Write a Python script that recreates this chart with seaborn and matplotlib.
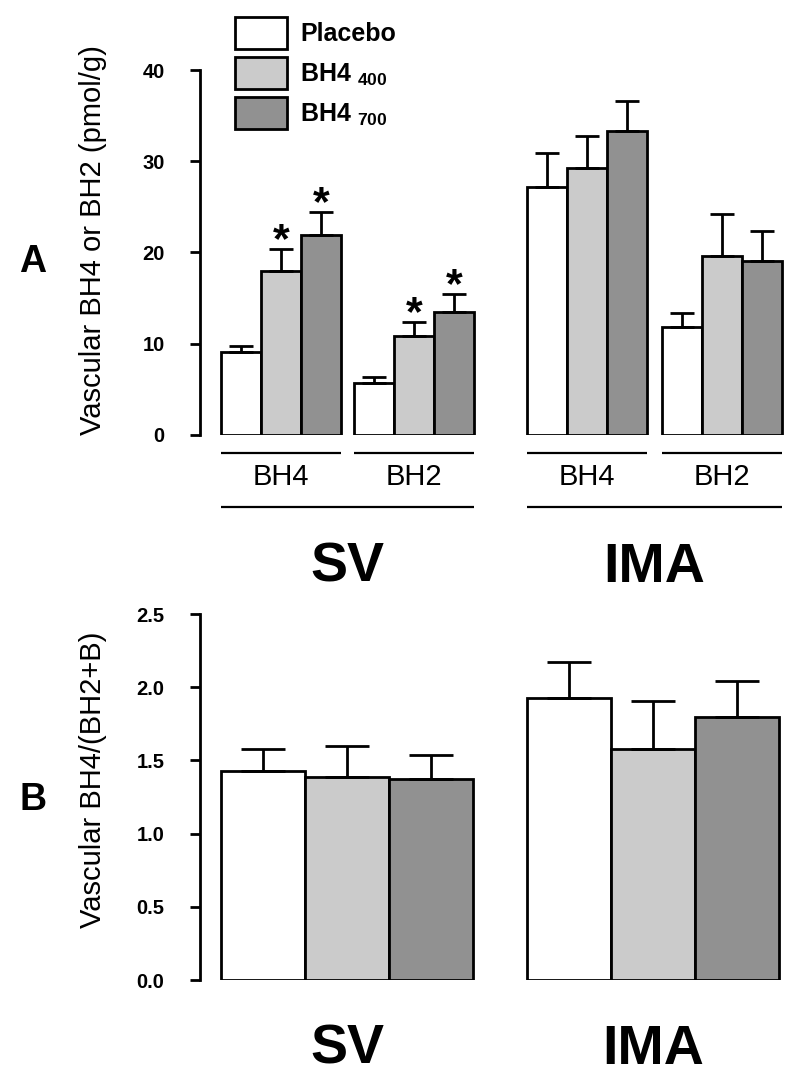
import numpy as np
import pandas as pd
import matplotlib
matplotlib.use("Agg")
import matplotlib.pyplot as plt
import seaborn as sns
from matplotlib.patches import Patch

# ---------------- data ----------------
treatments = ["Placebo", "BH4 400", "BH4 700"]
legend_labels = ["Placebo", r"BH4 $_{400}$", r"BH4 $_{700}$"]
tissues = ["SV", "IMA"]
analytes = ["BH4", "BH2"]

# Panel A: vascular BH4 / BH2 (pmol/g), mean and SEM
sv_bh4_mean = [9.1, 18.0, 21.9]
sv_bh4_sem = [0.7, 2.4, 2.5]
sv_bh4_sig = [False, True, True]
sv_bh2_mean = [5.7, 10.9, 13.5]
sv_bh2_sem = [0.65, 1.45, 1.95]
sv_bh2_sig = [False, True, True]
ima_bh4_mean = [27.2, 29.3, 33.3]
ima_bh4_sem = [3.7, 3.5, 3.3]
ima_bh4_sig = [False, False, False]
ima_bh2_mean = [11.8, 19.6, 19.1]
ima_bh2_sem = [1.6, 4.6, 3.3]
ima_bh2_sig = [False, False, False]

# Panel B: BH4/(BH2+B) ratio
ratio_sv_mean = [1.43, 1.39, 1.37]
ratio_sv_sem = [0.145, 0.21, 0.17]
ratio_ima_mean = [1.925, 1.575, 1.795]
ratio_ima_sem = [0.245, 0.33, 0.25]

a_yticks = [0, 10, 20, 30, 40]
b_yticks = [0.0, 0.5, 1.0, 1.5, 2.0, 2.5]
b_yticklabels = ["0.0", "0.5", "1.0", "1.5", "2.0", "2.5"]
a_ylabel = "Vascular BH4 or BH2 (pmol/g)"
b_ylabel = "Vascular BH4/(BH2+B)"

# ---------------- style / layout ----------------
colors = ["#FFFFFF", "#CBCBCB", "#919191"]
W, H, DPI = 800, 1079, 100
FONT = "Liberation Sans"

sns.set_theme(style="ticks")
plt.rcParams["font.family"] = [FONT, "DejaVu Sans"]
plt.rcParams["text.color"] = "black"
plt.rcParams["axes.labelcolor"] = "black"
plt.rcParams["xtick.color"] = "black"
plt.rcParams["ytick.color"] = "black"
plt.rcParams["mathtext.fontset"] = "custom"
plt.rcParams["mathtext.rm"] = FONT + ":bold"
plt.rcParams["mathtext.it"] = FONT + ":bold"
plt.rcParams["mathtext.bf"] = FONT + ":bold"
plt.rcParams["mathtext.default"] = "rm"

A_GROUP_LEFT = {("SV", "BH4"): 221, ("SV", "BH2"): 354,
                ("IMA", "BH4"): 527, ("IMA", "BH2"): 662}
A_GROUP_W = 120
B_GROUP_LEFT = {"SV": 221, "IMA": 527}
B_GROUP_W = 252
LW = 2.0


def fy(px):
    return 1 - px / H


fig = plt.figure(figsize=(W / DPI, H / DPI), dpi=DPI)
fig.patch.set_facecolor("white")


def style_axis(ax, ticks, labels):
    sns.despine(ax=ax, bottom=True)
    ax.spines["left"].set_linewidth(LW)
    ax.spines["left"].set_color("black")
    ax.set_yticks(ticks, labels, fontweight="bold", fontsize=14.5)
    ax.tick_params(axis="y", direction="out", length=7.5, width=LW, pad=18,
                   color="black", labelcolor="black")
    ax.set_facecolor("white")


def add_errorbars(ax, df, capsize):
    bars = sorted([p for p in ax.patches if p.get_height() > 0],
                  key=lambda p: p.get_x())
    out = []
    for p, (_, row) in zip(bars, df.iterrows()):
        cx = p.get_x() + p.get_width() / 2
        top = p.get_height()
        ax.errorbar([cx], [top], yerr=[[0], [row["sem"]]], fmt="none",
                    ecolor="black", elinewidth=LW, capsize=capsize,
                    capthick=LW, zorder=4)
        out.append((cx, top + row["sem"], row))
    return out


# ---------------- Panel A ----------------
rows = []
for tissue, analyte, means, sems, sigs in [
        ("SV", "BH4", sv_bh4_mean, sv_bh4_sem, sv_bh4_sig),
        ("SV", "BH2", sv_bh2_mean, sv_bh2_sem, sv_bh2_sig),
        ("IMA", "BH4", ima_bh4_mean, ima_bh4_sem, ima_bh4_sig),
        ("IMA", "BH2", ima_bh2_mean, ima_bh2_sem, ima_bh2_sig)]:
    for t, m, s, sg in zip(treatments, means, sems, sigs):
        rows.append(dict(tissue=tissue, analyte=analyte, treatment=t,
                         mean=m, sem=s, sig=sg,
                         xpos=A_GROUP_LEFT[(tissue, analyte)] + A_GROUP_W / 2))
dfA = pd.DataFrame(rows)

axA = fig.add_axes([200 / W, fy(435), 600 / W, (435 - 70) / H])
spA = np.min(np.diff(np.sort(dfA["xpos"].unique())))
sns.barplot(data=dfA, x="xpos", y="mean", hue="treatment", hue_order=treatments,
            palette=colors, native_scale=True, width=A_GROUP_W / spA,
            errorbar=None, edgecolor="black", linewidth=LW, saturation=1,
            legend=False, ax=axA)
axA.set_xlim(200, 800)
axA.set_ylim(0, 40)
style_axis(axA, a_yticks, [str(t) for t in a_yticks])
axA.set_xlabel("")
axA.set_ylabel(a_ylabel, fontsize=21, color="black")
axA.yaxis.set_label_coords((107 - 200) / 600, 0.535)

for cx, top, row in add_errorbars(axA, dfA, capsize=8.3):
    if row["sig"]:
        axA.annotate("*", xy=(cx, top), xytext=(0, -2.0), textcoords="offset points",
                     ha="center", va="baseline", fontsize=31, fontweight="bold",
                     color="black")

# sub-group tick labels and bracket lines
sub_centers = [A_GROUP_LEFT[(t, a)] + A_GROUP_W / 2 for t in tissues for a in analytes]
sub_labels = [a for t in tissues for a in analytes]
axA.set_xticks(sub_centers, sub_labels, fontsize=21)
axA.tick_params(axis="x", length=0, pad=20, labelcolor="black")
tr = axA.get_xaxis_transform()
y_sub = (435 - 452.7) / 365
y_long = (435 - 506.7) / 365
for t in tissues:
    for a in analytes:
        x0 = A_GROUP_LEFT[(t, a)]
        axA.plot([x0, x0 + A_GROUP_W], [y_sub, y_sub], transform=tr,
                 clip_on=False, color="black", lw=1.6, solid_capstyle="butt")
    x0 = A_GROUP_LEFT[(t, "BH4")]
    x1 = A_GROUP_LEFT[(t, "BH2")] + A_GROUP_W
    axA.plot([x0, x1], [y_long, y_long], transform=tr, clip_on=False,
             color="black", lw=1.6, solid_capstyle="butt")
    axA.text((x0 + x1) / 2, (435 - 582) / 365, t, transform=tr, ha="center",
             va="baseline", fontsize=40, fontweight="bold", color="black")

# ---------------- Panel B ----------------
rowsB = []
for tissue, means, sems in [("SV", ratio_sv_mean, ratio_sv_sem),
                            ("IMA", ratio_ima_mean, ratio_ima_sem)]:
    for t, m, s in zip(treatments, means, sems):
        rowsB.append(dict(tissue=tissue, treatment=t, mean=m, sem=s,
                          xpos=B_GROUP_LEFT[tissue] + B_GROUP_W / 2))
dfB = pd.DataFrame(rowsB)

axB = fig.add_axes([200 / W, fy(980), 600 / W, (980 - 614) / H])
spB = np.min(np.diff(np.sort(dfB["xpos"].unique())))
sns.barplot(data=dfB, x="xpos", y="mean", hue="treatment", hue_order=treatments,
            palette=colors, native_scale=True, width=B_GROUP_W / spB,
            errorbar=None, edgecolor="black", linewidth=LW, saturation=1,
            legend=False, ax=axB)
axB.set_xlim(200, 800)
axB.set_ylim(0, 2.5)
style_axis(axB, b_yticks, b_yticklabels)
axB.set_xticks([])
axB.set_xlabel("")
axB.set_ylabel(b_ylabel, fontsize=21, color="black")
axB.yaxis.set_label_coords((107 - 200) / 600, 0.546)
add_errorbars(axB, dfB, capsize=15.5)
trB = axB.get_xaxis_transform()
for t in tissues:
    cx = B_GROUP_LEFT[t] + B_GROUP_W / 2
    axB.text(cx, (980 - 1064) / 366, t, transform=trB, ha="center",
             va="baseline", fontsize=40, fontweight="bold", color="black")

# ---------------- panel letters ----------------
fig.text(33 / W, fy(272), "A", ha="center", va="baseline", fontsize=27,
         fontweight="bold", color="black")
fig.text(33 / W, fy(810), "B", ha="center", va="baseline", fontsize=27,
         fontweight="bold", color="black")

# ---------------- legend ----------------
handles = [Patch(facecolor=c, edgecolor="black", linewidth=LW, label=l)
           for c, l in zip(colors, legend_labels)]
leg = fig.legend(handles=handles, loc="upper left", bbox_to_anchor=(235 / W, fy(17)),
                 frameon=False, borderpad=0, borderaxespad=0, handlelength=2.08,
                 handleheight=1.62, handletextpad=0.52, labelspacing=0.3,
                 prop=dict(family=FONT, weight="bold", size=18))
for txt in leg.get_texts():
    txt.set_color("black")

fig.savefig("out.png", dpi=DPI, facecolor="white")
